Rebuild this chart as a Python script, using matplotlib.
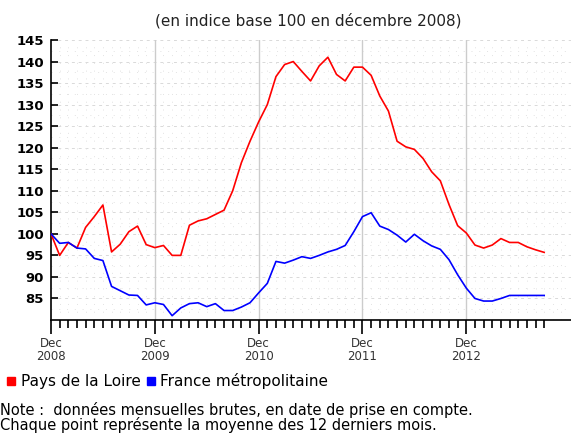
import numpy as np
import matplotlib
matplotlib.use("Agg")
import matplotlib.pyplot as plt
from matplotlib.lines import Line2D
from matplotlib.ticker import FixedLocator

# monthly values, Dec 2008 .. Sep 2013 (base 100 = Dec 2008)
loire = [100, 95, 98, 96.7, 101.5, 104, 106.7, 95.8, 97.6, 100.5,
         101.8, 97.5, 96.8, 97.3, 95, 95, 102, 103, 103.5, 104.5,
         105.5, 110, 116.5, 121.5, 126, 130, 136.5, 139.3, 140, 137.7,
         135.5, 139, 141, 137, 135.5, 138.7, 138.7, 136.8, 132, 128.5,
         121.5, 120.2, 119.6, 117.5, 114.4, 112.3, 106.8, 101.9, 100.2, 97.4,
         96.7, 97.4, 98.9, 98, 98, 97, 96.3, 95.7]
france = [100, 97.8, 98, 96.7, 96.5, 94.3, 93.8, 87.8, 86.8, 85.8,
          85.7, 83.5, 84, 83.6, 81, 82.8, 83.8, 84, 83.1, 83.8,
          82.2, 82.2, 83, 84, 86.3, 88.5, 93.6, 93.2, 93.9, 94.7,
          94.3, 95, 95.8, 96.4, 97.3, 100.5, 104, 104.9, 101.8, 101,
          99.7, 98.1, 99.9, 98.4, 97.2, 96.4, 94, 90.5, 87.4, 85,
          84.4, 84.4, 85, 85.7, 85.7, 85.7, 85.7, 85.7]
months = np.arange(len(loire))
year_labels = ["Dec\n2008", "Dec\n2009", "Dec\n2010", "Dec\n2011", "Dec\n2012"]
year_pos = [0, 12, 24, 36, 48]
series_names = ["Pays de la Loire", "France métropolitaine"]

plt.rcParams['font.family'] = ['DejaVu Sans']

fig = plt.figure(figsize=(5.71, 4.37), dpi=100)
ax = fig.add_axes([51 / 571, 1 - 320 / 437, 1 - 51 / 571, (320 - 40) / 437])

# background grid
for y in np.arange(85, 146, 5):
    ax.axhline(y, color="#d9d9d9", lw=0.7, ls=(0, (3, 4)), zorder=0)
for y in np.arange(82.5, 145, 5):
    ax.axhline(y, color="#e2e2e2", lw=0.7, ls=(0, (1, 7)), zorder=0)
for m in range(1, 60):
    if m % 12:
        ax.axvline(m, color="#e2e2e2", lw=0.7, ls=(0, (1, 7)), zorder=0)
for m in year_pos[1:]:
    ax.axvline(m, color="#cccccc", lw=1.0, zorder=1)

ax.plot(months, loire, color="#ff0000", lw=1.2, zorder=3)
ax.plot(months, france, color="#0000ff", lw=1.2, zorder=3)

ax.set_xlim(0, 60.1)
ax.set_ylim(80, 145)

for s in ["top", "right"]:
    ax.spines[s].set_visible(False)
ax.spines["left"].set_linewidth(1.2)
ax.spines["bottom"].set_linewidth(1.2)

ax.yaxis.set_major_locator(FixedLocator(np.arange(85, 146, 5)))
ax.tick_params(axis="y", direction="in", length=5, width=1.2, pad=5,
               labelsize=9.5)
for lab in ax.get_yticklabels():
    lab.set_fontweight("bold")

ax.set_xticks(year_pos)
ax.set_xticklabels(year_labels, fontsize=8.5, linespacing=1.0, color="#333333")
ax.xaxis.set_minor_locator(FixedLocator([m for m in range(58) if m % 12]))
ax.tick_params(axis="x", which="major", direction="out", length=10, width=1.2, pad=2)
ax.tick_params(axis="x", which="minor", direction="out", length=5.5, width=1.2)

fig.text(0.54, 0.953, "(en indice base 100 en décembre 2008)", ha="center",
         va="center", fontsize=11, color="#222222")

handles = [Line2D([], [], marker="s", color=c, ls="none", markersize=6)
           for c in ["#ff0000", "#0000ff"]]
fig.legend(handles, series_names, loc="center left",
           bbox_to_anchor=(0.012, 1 - 381 / 437), frameon=False, ncol=2,
           handlelength=0.6, handletextpad=0.3, columnspacing=0.4,
           borderaxespad=0, borderpad=0, fontsize=11)

fig.text(0.0, 1 - 410 / 437,
         "Note :  données mensuelles brutes, en date de prise en compte.",
         ha="left", va="center", fontsize=10.5)
fig.text(0.0, 1 - 425 / 437,
         "Chaque point représente la moyenne des 12 derniers mois.",
         ha="left", va="center", fontsize=10.5)

fig.savefig("out.png", dpi=100)
